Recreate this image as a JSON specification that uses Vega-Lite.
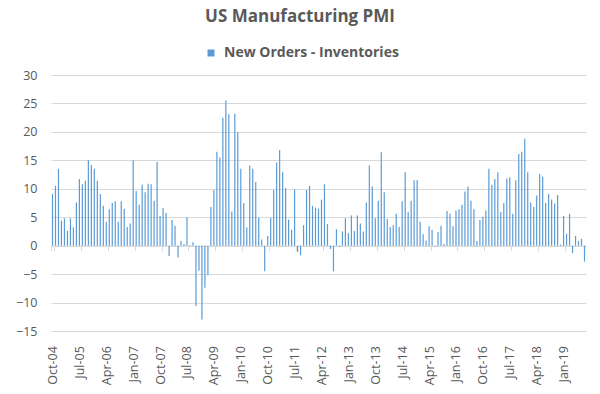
{
  "$schema": "https://vega.github.io/schema/vega-lite/v6.json",
  "width": 535,
  "height": 256,
  "autosize": {"type": "none"},
  "padding": {"left": 51, "top": 75, "right": 14, "bottom": 63},
  "background": "white",
  "title": {
    "text": "US Manufacturing PMI",
    "font": "Open Sans",
    "fontSize": 17,
    "fontWeight": "bold",
    "color": "#595959",
    "anchor": "middle",
    "dx": -18.5,
    "offset": 20
  },
  "config": {
    "view": {"stroke": null},
    "font": "Open Sans"
  },
  "data": {
    "values": [
      {"month": "Oct-04", "value": 9.1},
      {"month": "Nov-04", "value": 10.5},
      {"month": "Dec-04", "value": 13.5},
      {"month": "Jan-05", "value": 4.4},
      {"month": "Feb-05", "value": 4.8},
      {"month": "Mar-05", "value": 2.6},
      {"month": "Apr-05", "value": 4.8},
      {"month": "May-05", "value": 3.2},
      {"month": "Jun-05", "value": 7.6},
      {"month": "Jul-05", "value": 11.7},
      {"month": "Aug-05", "value": 10.8},
      {"month": "Sep-05", "value": 11.4},
      {"month": "Oct-05", "value": 15.0},
      {"month": "Nov-05", "value": 14.2},
      {"month": "Dec-05", "value": 13.5},
      {"month": "Jan-06", "value": 11.4},
      {"month": "Feb-06", "value": 9.1},
      {"month": "Mar-06", "value": 7.0},
      {"month": "Apr-06", "value": 4.2},
      {"month": "May-06", "value": 6.4},
      {"month": "Jun-06", "value": 7.5},
      {"month": "Jul-06", "value": 7.8},
      {"month": "Aug-06", "value": 4.2},
      {"month": "Sep-06", "value": 7.8},
      {"month": "Oct-06", "value": 6.5},
      {"month": "Nov-06", "value": 3.3},
      {"month": "Dec-06", "value": 3.9},
      {"month": "Jan-07", "value": 15.0},
      {"month": "Feb-07", "value": 9.6},
      {"month": "Mar-07", "value": 7.2},
      {"month": "Apr-07", "value": 10.7},
      {"month": "May-07", "value": 9.4},
      {"month": "Jun-07", "value": 10.9},
      {"month": "Jul-07", "value": 10.8},
      {"month": "Aug-07", "value": 7.9},
      {"month": "Sep-07", "value": 14.7},
      {"month": "Oct-07", "value": 5.2},
      {"month": "Nov-07", "value": 6.6},
      {"month": "Dec-07", "value": 5.8},
      {"month": "Jan-08", "value": -1.8},
      {"month": "Feb-08", "value": 4.5},
      {"month": "Mar-08", "value": 3.5},
      {"month": "Apr-08", "value": -2.1},
      {"month": "May-08", "value": 0.8},
      {"month": "Jun-08", "value": 0.3},
      {"month": "Jul-08", "value": 5.0},
      {"month": "Aug-08", "value": 0.1},
      {"month": "Sep-08", "value": 0.6},
      {"month": "Oct-08", "value": -10.6},
      {"month": "Nov-08", "value": -4.4},
      {"month": "Dec-08", "value": -13.0},
      {"month": "Jan-09", "value": -7.4},
      {"month": "Feb-09", "value": -5.2},
      {"month": "Mar-09", "value": 6.8},
      {"month": "Apr-09", "value": 9.8},
      {"month": "May-09", "value": 16.5},
      {"month": "Jun-09", "value": 15.5},
      {"month": "Jul-09", "value": 22.5},
      {"month": "Aug-09", "value": 25.5},
      {"month": "Sep-09", "value": 23.1},
      {"month": "Oct-09", "value": 6.0},
      {"month": "Nov-09", "value": 23.2},
      {"month": "Dec-09", "value": 20.0},
      {"month": "Jan-10", "value": 13.5},
      {"month": "Feb-10", "value": 7.5},
      {"month": "Mar-10", "value": 3.2},
      {"month": "Apr-10", "value": 14.1},
      {"month": "May-10", "value": 13.5},
      {"month": "Jun-10", "value": 11.2},
      {"month": "Jul-10", "value": 4.9},
      {"month": "Aug-10", "value": 1.1},
      {"month": "Sep-10", "value": -4.5},
      {"month": "Oct-10", "value": 1.7},
      {"month": "Nov-10", "value": 4.9},
      {"month": "Dec-10", "value": 9.8},
      {"month": "Jan-11", "value": 14.6},
      {"month": "Feb-11", "value": 16.8},
      {"month": "Mar-11", "value": 12.9},
      {"month": "Apr-11", "value": 10.1},
      {"month": "May-11", "value": 4.6},
      {"month": "Jun-11", "value": 2.8},
      {"month": "Jul-11", "value": 9.9},
      {"month": "Aug-11", "value": -1.1},
      {"month": "Sep-11", "value": -1.7},
      {"month": "Oct-11", "value": 3.6},
      {"month": "Nov-11", "value": 9.8},
      {"month": "Dec-11", "value": 10.5},
      {"month": "Jan-12", "value": 7.0},
      {"month": "Feb-12", "value": 6.7},
      {"month": "Mar-12", "value": 6.5},
      {"month": "Apr-12", "value": 8.1},
      {"month": "May-12", "value": 10.8},
      {"month": "Jun-12", "value": 3.8},
      {"month": "Jul-12", "value": -0.6},
      {"month": "Aug-12", "value": -4.5},
      {"month": "Sep-12", "value": 2.9},
      {"month": "Oct-12", "value": -0.2},
      {"month": "Nov-12", "value": 2.5},
      {"month": "Dec-12", "value": 4.8},
      {"month": "Jan-13", "value": 2.2},
      {"month": "Feb-13", "value": 5.3},
      {"month": "Mar-13", "value": 2.6},
      {"month": "Apr-13", "value": 5.3},
      {"month": "May-13", "value": 3.9},
      {"month": "Jun-13", "value": 2.5},
      {"month": "Jul-13", "value": 7.6},
      {"month": "Aug-13", "value": 14.1},
      {"month": "Sep-13", "value": 10.4},
      {"month": "Oct-13", "value": 4.8},
      {"month": "Nov-13", "value": 7.9},
      {"month": "Dec-13", "value": 16.4},
      {"month": "Jan-14", "value": 9.4},
      {"month": "Feb-14", "value": 4.7},
      {"month": "Mar-14", "value": 3.3},
      {"month": "Apr-14", "value": 3.6},
      {"month": "May-14", "value": 5.6},
      {"month": "Jun-14", "value": 3.3},
      {"month": "Jul-14", "value": 7.8},
      {"month": "Aug-14", "value": 12.9},
      {"month": "Sep-14", "value": 5.9},
      {"month": "Oct-14", "value": 7.9},
      {"month": "Nov-14", "value": 11.5},
      {"month": "Dec-14", "value": 11.5},
      {"month": "Jan-15", "value": 4.2},
      {"month": "Feb-15", "value": 2.0},
      {"month": "Mar-15", "value": 0.9},
      {"month": "Apr-15", "value": 3.4},
      {"month": "May-15", "value": 2.8},
      {"month": "Jun-15", "value": -0.2},
      {"month": "Jul-15", "value": 2.4},
      {"month": "Aug-15", "value": 3.5},
      {"month": "Sep-15", "value": 0.3},
      {"month": "Oct-15", "value": 6.1},
      {"month": "Nov-15", "value": 5.6},
      {"month": "Dec-15", "value": 3.4},
      {"month": "Jan-16", "value": 6.2},
      {"month": "Feb-16", "value": 6.4},
      {"month": "Mar-16", "value": 7.2},
      {"month": "Apr-16", "value": 9.5},
      {"month": "May-16", "value": 10.4},
      {"month": "Jun-16", "value": 7.9},
      {"month": "Jul-16", "value": 6.4},
      {"month": "Aug-16", "value": 0.8},
      {"month": "Sep-16", "value": 4.5},
      {"month": "Oct-16", "value": 5.1},
      {"month": "Nov-16", "value": 6.2},
      {"month": "Dec-16", "value": 13.5},
      {"month": "Jan-17", "value": 10.7},
      {"month": "Feb-17", "value": 11.7},
      {"month": "Mar-17", "value": 12.9},
      {"month": "Apr-17", "value": 5.9},
      {"month": "May-17", "value": 7.5},
      {"month": "Jun-17", "value": 11.8},
      {"month": "Jul-17", "value": 12.0},
      {"month": "Aug-17", "value": 5.6},
      {"month": "Sep-17", "value": 11.5},
      {"month": "Oct-17", "value": 16.1},
      {"month": "Nov-17", "value": 16.5},
      {"month": "Dec-17", "value": 18.8},
      {"month": "Jan-18", "value": 12.9},
      {"month": "Feb-18", "value": 7.6},
      {"month": "Mar-18", "value": 6.8},
      {"month": "Apr-18", "value": 8.8},
      {"month": "May-18", "value": 12.6},
      {"month": "Jun-18", "value": 12.1},
      {"month": "Jul-18", "value": 7.5},
      {"month": "Aug-18", "value": 9.1},
      {"month": "Sep-18", "value": 8.1},
      {"month": "Oct-18", "value": 7.4},
      {"month": "Nov-18", "value": 8.9},
      {"month": "Dec-18", "value": 0.2},
      {"month": "Jan-19", "value": 5.2},
      {"month": "Feb-19", "value": 2.1},
      {"month": "Mar-19", "value": 5.6},
      {"month": "Apr-19", "value": -1.3},
      {"month": "May-19", "value": 1.7},
      {"month": "Jun-19", "value": 0.8},
      {"month": "Jul-19", "value": 1.2},
      {"month": "Aug-19", "value": -2.8}
    ]
  },
  "mark": {"type": "bar", "size": 1.2},
  "encoding": {
    "x": {
      "field": "month",
      "type": "nominal",
      "sort": null,
      "scale": {"type": "band", "paddingInner": 0, "paddingOuter": 0},
      "axis": {
        "title": null,
        "orient": "bottom",
        "offset": -85.33,
        "domain": true,
        "domainColor": "#d9d9d9",
        "domainWidth": 1,
        "ticks": true,
        "tickColor": "#d9d9d9",
        "tickSize": 5,
        "tickBand": "extent",
        "labelAngle": -90,
        "labelPadding": 95,
        "labelFont": "Open Sans",
        "labelFontSize": 12.5,
        "labelColor": "#595959",
        "labelOverlap": false,
        "values": ["Oct-04", "Jul-05", "Apr-06", "Jan-07", "Oct-07", "Jul-08", "Apr-09", "Jan-10", "Oct-10", "Jul-11", "Apr-12", "Jan-13", "Oct-13", "Jul-14", "Apr-15", "Jan-16", "Oct-16", "Jul-17", "Apr-18", "Jan-19"]
      }
    },
    "y": {
      "field": "value",
      "type": "quantitative",
      "scale": {"domain": [-15, 30], "nice": false},
      "axis": {
        "title": null,
        "values": [-15, -10, -5, 0, 5, 10, 15, 20, 25, 30],
        "domain": false,
        "ticks": false,
        "grid": true,
        "gridColor": "#d9d9d9",
        "labelPadding": 14,
        "labelFont": "Open Sans",
        "labelFontSize": 12.5,
        "labelColor": "#595959"
      }
    },
    "color": {
      "datum": "New Orders - Inventories",
      "scale": {"range": ["#5b9bd5"]},
      "legend": {
        "title": null,
        "orient": "none",
        "legendX": 153,
        "legendY": -29,
        "padding": 0,
        "symbolType": "square",
        "symbolSize": 49,
        "symbolStrokeWidth": 0,
        "labelFont": "Open Sans",
        "labelFontSize": 14,
        "labelFontWeight": "bold",
        "labelColor": "#595959",
        "labelOffset": 6,
        "labelLimit": 400
      }
    }
  }
}
